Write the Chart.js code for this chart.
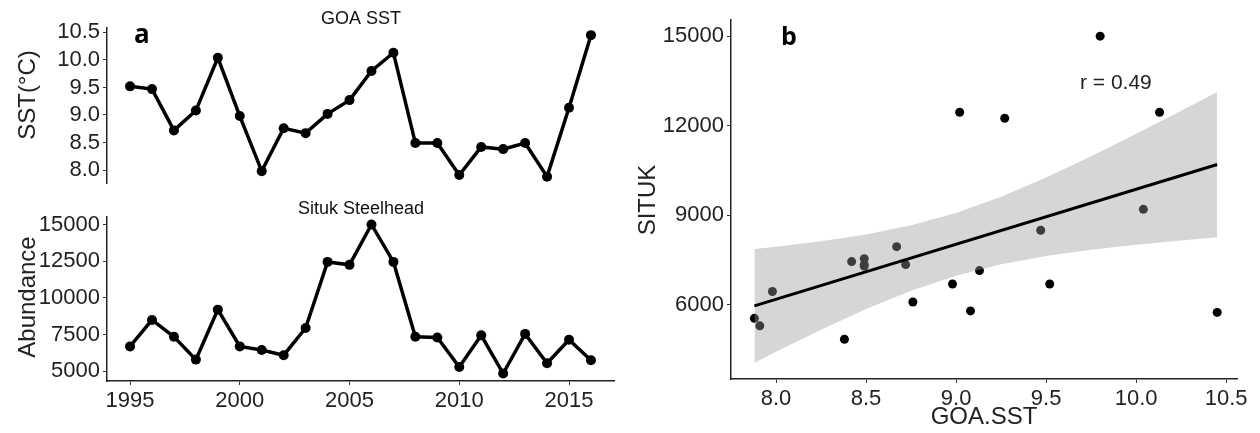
<!DOCTYPE html>
<html>
<head>
<meta charset="utf-8">
<script src="https://cdn.jsdelivr.net/npm/chart.js@4.4.1/dist/chart.umd.min.js"></script>
<style>
  body { margin: 0; background: #fff; }
  #wrap { position: relative; width: 1260px; height: 433px; }
  canvas { position: absolute; }
</style>
</head>
<body>
<div id="wrap">
  <canvas id="sstChart" width="630" height="200" style="left:0;top:0"></canvas>
  <canvas id="fishChart" width="630" height="233" style="left:0;top:200px"></canvas>
  <canvas id="scatterChart" width="630" height="433" style="left:630px;top:0"></canvas>
</div>
<script>
// Data
const years = [1995, 1996, 1997, 1998, 1999, 2000, 2001, 2002, 2003, 2004, 2005,
               2006, 2007, 2008, 2009, 2010, 2011, 2012, 2013, 2014, 2015, 2016];
const goaSST = [9.52, 9.47, 8.72, 9.08, 10.04, 8.98, 7.98, 8.76, 8.67, 9.02, 9.27,
                9.80, 10.13, 8.49, 8.49, 7.91, 8.42, 8.38, 8.49, 7.88, 9.13, 10.45];
const situk = [6700, 8500, 7350, 5800, 9200, 6700, 6450, 6100, 7950, 12450, 12250,
               15000, 12450, 7350, 7300, 5300, 7450, 4850, 7550, 5550, 7150, 5750];

// tick labels
const sstTicks = [8.0, 8.5, 9.0, 9.5, 10.0, 10.5];
const abundanceTicks = [5000, 7500, 10000, 12500, 15000];
const yearTicks = [1995, 2000, 2005, 2010, 2015];
const situkTicks = [6000, 9000, 12000, 15000];

// regression line + 95% band
const fitX = [7.88, 10.45];
const fitY = [5970, 10700];
const bandX = [7.88, 8.0, 8.25, 8.5, 8.75, 9.0, 9.25, 9.5, 9.75, 10.0, 10.25, 10.45];
const bandUpper = [7875, 7950, 8130, 8360, 8665, 9080, 9620, 10270, 10980, 11730, 12500, 13130];
const bandLower = [4065, 4430, 5170, 5860, 6477, 6980, 7360, 7635, 7845, 8015, 8160, 8265];

const FONT = "'Liberation Sans', Arial, sans-serif";

// draws panel titles, axis titles and letters
const panelText = {
  id: 'panelText',
  afterDraw(chart, args, opts) {
    const ctx = chart.ctx;
    (opts.items || []).forEach(t => {
      ctx.save();
      ctx.font = t.font;
      ctx.fillStyle = t.color || '#111';
      ctx.textAlign = t.align || 'center';
      ctx.textBaseline = t.baseline || 'middle';
      ctx.translate(t.x, t.y);
      if (t.rotate) ctx.rotate(t.rotate);
      ctx.fillText(t.text, 0, 0);
      ctx.restore();
    });
  }
};
Chart.register(panelText);

function axis(min, max, ticks, fmt, fit) {
  return {
    type: 'linear',
    min: min,
    max: max,
    border: { display: true, color: '#222', width: 1.5 },
    grid: { display: true, drawOnChartArea: false, drawTicks: true, tickLength: 4, color: '#333' },
    ticks: {
      color: '#222',
      font: { family: FONT, size: 22 },
      padding: 3,
      maxRotation: 0,
      callback: fmt
    },
    afterBuildTicks: s => { s.ticks = ticks.map(v => ({ value: v })); },
    afterFit: fit
  };
}

const baseOpts = {
  responsive: false,
  animation: false,
  devicePixelRatio: 1,
  plugins: { legend: { display: false }, tooltip: { enabled: false } }
};

const lineStyle = {
  borderColor: '#000',
  borderWidth: 3.5,
  pointRadius: 5,
  pointBackgroundColor: '#000',
  pointBorderWidth: 0,
  tension: 0
};

// a: GOA SST
new Chart(document.getElementById('sstChart'), {
  type: 'line',
  data: {
    datasets: [Object.assign({ data: years.map((y, i) => ({ x: y, y: goaSST[i] })) }, lineStyle)]
  },
  options: Object.assign({}, baseOpts, {
    layout: { padding: { left: 0, right: 16, top: 28, bottom: 8 }, autoPadding: false },
    scales: {
      x: { type: 'linear', min: 1993.95, max: 2017.05, display: false },
      y: axis(7.75, 10.58, sstTicks, v => v.toFixed(1), s => { s.width = 107; })
    },
    plugins: {
      legend: { display: false }, tooltip: { enabled: false },
      panelText: { items: [
        { text: 'GOA SST', x: 361, y: 19, font: '18px ' + FONT },
        { text: 'a', x: 134, y: 43, font: 'bold 26px "Open Sans", sans-serif', align: 'left', baseline: 'alphabetic', color: '#000' },
        { text: 'SST(°C)', x: 28, y: 95, font: '24px ' + FONT, rotate: -Math.PI / 2, color: '#222' }
      ] }
    }
  })
});

// a: Situk steelhead abundance
new Chart(document.getElementById('fishChart'), {
  type: 'line',
  data: {
    datasets: [Object.assign({ data: years.map((y, i) => ({ x: y, y: situk[i] })) }, lineStyle)]
  },
  options: Object.assign({}, baseOpts, {
    layout: { padding: { left: 0, right: 16, top: 17, bottom: 0 }, autoPadding: false },
    scales: {
      x: axis(1993.95, 2017.05, yearTicks, v => String(v), s => { s.height = 52; }),
      y: axis(4343, 15507, abundanceTicks, v => String(v), s => { s.width = 107; })
    },
    plugins: {
      legend: { display: false }, tooltip: { enabled: false },
      panelText: { items: [
        { text: 'Situk Steelhead', x: 361, y: 9, font: '18px ' + FONT },
        { text: 'Abundance', x: 28, y: 97, font: '24px ' + FONT, rotate: -Math.PI / 2, color: '#222' }
      ] }
    }
  })
});

// b: scatter with linear fit
const obs = goaSST.map((s, i) => ({ x: s, y: situk[i] }));

new Chart(document.getElementById('scatterChart'), {
  type: 'scatter',
  data: {
    datasets: [
      {
        data: fitX.map((x, i) => ({ x: x, y: fitY[i] })),
        showLine: true, borderColor: '#000', borderWidth: 3, pointRadius: 0, order: 0
      },
      {
        data: bandX.map((x, i) => ({ x: x, y: bandUpper[i] })),
        showLine: true, borderColor: 'rgba(0,0,0,0)', borderWidth: 0, pointRadius: 0,
        fill: '+1', backgroundColor: 'rgba(153,153,153,0.4)', order: 1
      },
      {
        data: bandX.map((x, i) => ({ x: x, y: bandLower[i] })),
        showLine: true, borderColor: 'rgba(0,0,0,0)', borderWidth: 0, pointRadius: 0,
        fill: false, order: 1
      },
      {
        data: obs, pointRadius: 4.5, pointBackgroundColor: '#000', pointBorderWidth: 0, order: 2
      }
    ]
  },
  options: Object.assign({}, baseOpts, {
    layout: { padding: { left: 0, right: 23, top: 20, bottom: 0 }, autoPadding: false },
    scales: {
      x: axis(7.75, 10.56, sstTicks, v => v.toFixed(1), s => { s.height = 54; }),
      y: axis(3520, 15540, situkTicks, v => String(v), s => { s.width = 101; })
    },
    plugins: {
      legend: { display: false }, tooltip: { enabled: false },
      panelText: { items: [
        { text: 'b', x: 151, y: 45, font: 'bold 25px "Open Sans", sans-serif', align: 'left', baseline: 'alphabetic', color: '#000' },
        { text: 'r = 0.49', x: 450, y: 83, font: '21px ' + FONT, align: 'left', color: '#222' },
        { text: 'SITUK', x: 18, y: 200, font: '24px ' + FONT, rotate: -Math.PI / 2, color: '#222' },
        { text: 'GOA.SST', x: 354, y: 417, font: '24px ' + FONT, color: '#222' }
      ] }
    }
  })
});
</script>
</body>
</html>
